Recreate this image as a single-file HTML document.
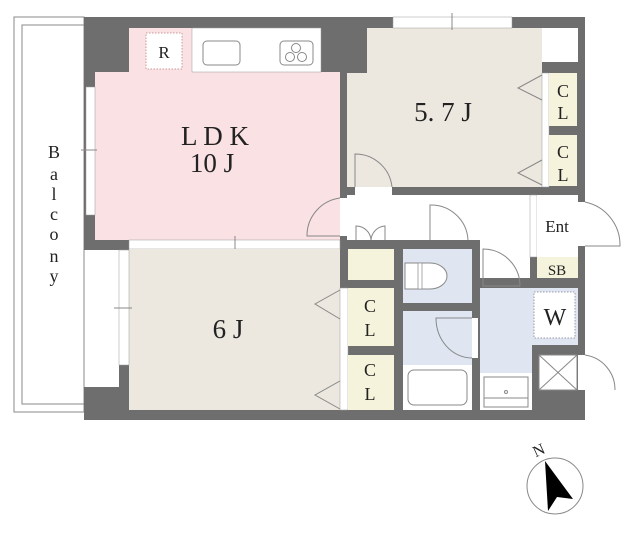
<!DOCTYPE html>
<html><head><meta charset="utf-8"><style>
html,body{margin:0;padding:0;background:#fff;width:640px;height:535px;overflow:hidden}
svg{display:block}
text{font-family:"Liberation Serif",serif;fill:#222}
</style></head><body>
<svg width="640" height="535" viewBox="0 0 640 535" xmlns="http://www.w3.org/2000/svg">
<!-- balcony -->
<rect x="14" y="17" width="70" height="395" fill="none" stroke="#888" stroke-width="1"/>
<polyline points="84,25 22,25 22,404 84,404" fill="none" stroke="#888" stroke-width="1"/>
<g font-size="18" text-anchor="middle">
<text x="54" y="158">B</text><text x="54" y="180">a</text><text x="54" y="200">l</text><text x="54" y="220">c</text><text x="54" y="240">o</text><text x="54" y="262">n</text><text x="54" y="282">y</text>
</g>
<!-- walls -->
<path d="M84,17 H585 V420 H84 V387 H119 V250 H84 Z" fill="#6e6e6e"/>
<!-- LDK -->
<rect x="95" y="72" width="245" height="168" fill="#f9e1e4"/>
<rect x="129" y="28" width="63" height="44" fill="#f9e1e4"/>
<rect x="192" y="28" width="129" height="44" fill="#fff" stroke="#999" stroke-width="0.5"/>
<rect x="203" y="41" width="37" height="24" rx="4" fill="#fff" stroke="#888"/>
<rect x="280" y="41" width="33" height="24" rx="4" fill="#fff" stroke="#888"/>
<circle cx="296" cy="48" r="4.5" fill="none" stroke="#888"/><circle cx="290" cy="57" r="4.5" fill="none" stroke="#888"/><circle cx="302" cy="57" r="4.5" fill="none" stroke="#888"/>
<rect x="146" y="33" width="36" height="36" fill="#fff" stroke="#c99" stroke-dasharray="1.5,1.5"/>
<text x="164" y="58" font-size="17" text-anchor="middle">R</text>
<text x="215" y="145" font-size="27" text-anchor="middle">L D K</text>
<text x="212" y="172" font-size="27" text-anchor="middle">10 J</text>
<!-- LDK windows -->
<rect x="86" y="87" width="9" height="128" fill="#fff" stroke="#999" stroke-width="0.5"/>
<line x1="81" y1="150" x2="97" y2="150" stroke="#888"/>
<rect x="129" y="240" width="211" height="9" fill="#fff" stroke="#999" stroke-width="0.5"/>
<line x1="235" y1="236" x2="235" y2="252" stroke="#888"/>
<!-- LDK door -->
<rect x="340" y="198" width="7" height="38" fill="#fff"/>
<path d="M340,198 A38,38 0 0 0 307,236 H340" fill="none" stroke="#888"/>
<!-- 5.7J -->
<path d="M367,28 H542 V187 H347 V73 H367 Z" fill="#ece8df"/>
<rect x="393" y="17" width="119" height="11" fill="#fff" stroke="#999" stroke-width="0.5"/>
<line x1="452" y1="13" x2="452" y2="30" stroke="#888"/>
<text x="443" y="121" font-size="27" text-anchor="middle">5. 7 J</text>
<rect x="542" y="28" width="36" height="34" fill="#fff"/>
<rect x="542" y="73" width="7" height="114" fill="#fff" stroke="#999" stroke-width="0.5"/>
<rect x="549" y="73" width="28" height="53" fill="#f6f3dc"/>
<rect x="549" y="135" width="28" height="51" fill="#f6f3dc"/>
<polyline points="542,75 518,88 542,100" fill="none" stroke="#888"/>
<polyline points="542,160 518,173 542,185" fill="none" stroke="#888"/>
<g font-size="18" text-anchor="middle"><text x="563" y="97">C</text><text x="563" y="119">L</text><text x="563" y="158">C</text><text x="563" y="181">L</text></g>
<!-- 5.7 door -->
<rect x="355" y="187" width="37" height="8" fill="#fff"/>
<path d="M355,187 V154 A37,37 0 0 1 392,187" fill="none" stroke="#888"/>
<!-- hall -->
<path d="M347,195 H530 V278 H480 V240 H347 Z" fill="#fff"/>
<rect x="530" y="195" width="7" height="62" fill="#fff" stroke="#999" stroke-width="0.5"/>
<rect x="537" y="195" width="41" height="62" fill="#fff"/>
<text x="557" y="232" font-size="17" text-anchor="middle">Ent</text>
<rect x="537" y="257" width="41" height="21" fill="#f6f3dc"/>
<text x="557" y="275" font-size="15" text-anchor="middle">SB</text>
<rect x="578" y="202" width="7" height="44" fill="#fff"/>
<path d="M585,202 A44,44 0 0 1 620,246 H585" fill="none" stroke="#888"/>
<!-- storage -->
<rect x="348" y="249" width="46" height="31" fill="#f6f3dc"/>
<path d="M356,240 V226 A15,15 0 0 1 371,240 M385,240 V226 A15,15 0 0 0 371,240" fill="none" stroke="#888"/>
<!-- toilet -->
<rect x="403" y="249" width="69" height="54" fill="#dfe6f2"/>
<path d="M405,263 H430 A17,13 0 0 1 430,289 H405 Z" fill="#fff" stroke="#888"/>
<rect x="418" y="263" width="4" height="26" fill="#fff" stroke="#888" stroke-width="0.7"/>
<path d="M430,240 V205 A37,37 0 0 1 468,240" fill="none" stroke="#888"/>
<path d="M483,249 A37,37 0 0 1 520,286 H483 Z" fill="none" stroke="#888"/>
<!-- bath -->
<rect x="403" y="311" width="69" height="54" fill="#dfe6f2"/>
<rect x="403" y="365" width="69" height="45" fill="#fff"/>
<rect x="408" y="370" width="59" height="35" rx="6" fill="#fff" stroke="#888"/>
<rect x="472" y="318" width="6" height="40" fill="#fff"/>
<path d="M472,318 H436 A36,40 0 0 0 472,358" fill="none" stroke="#888"/>
<!-- washroom -->
<path d="M480,288 H578 V345 H532 V373 H480 Z" fill="#dfe6f2"/>
<rect x="534" y="292" width="41" height="46" fill="#fff" stroke="#99a" stroke-dasharray="1.5,1.5"/>
<text x="555" y="325" font-size="24" text-anchor="middle">W</text>
<rect x="480" y="373" width="52" height="37" fill="#fff"/>
<rect x="484" y="377" width="44" height="30" fill="#fff" stroke="#888"/>
<line x1="484" y1="398" x2="528" y2="398" stroke="#888"/>
<circle cx="506" cy="392" r="1.5" fill="none" stroke="#888"/>
<rect x="539" y="355" width="38" height="35" fill="#fff" stroke="#888"/>
<path d="M539,355 L577,390 M577,355 L539,390" stroke="#888"/>
<rect x="578" y="355" width="7" height="35" fill="#fff"/>
<path d="M585,355 A35,35 0 0 1 615,390" fill="none" stroke="#888"/>
<!-- 6J -->
<rect x="129" y="249" width="211" height="161" fill="#ece8df"/>
<rect x="119" y="250" width="10" height="115" fill="#fff" stroke="#999" stroke-width="0.5"/>
<line x1="114" y1="308" x2="132" y2="308" stroke="#888"/>
<text x="228" y="338" font-size="27" text-anchor="middle">6 J</text>
<rect x="340" y="288" width="8" height="122" fill="#fff" stroke="#999" stroke-width="0.5"/>
<rect x="348" y="288" width="46" height="58" fill="#f6f3dc"/>
<rect x="348" y="355" width="46" height="55" fill="#f6f3dc"/>
<polyline points="340,290 315,304 340,319" fill="none" stroke="#888"/>
<polyline points="340,381 315,395 340,409" fill="none" stroke="#888"/>
<g font-size="18" text-anchor="middle"><text x="370" y="312">C</text><text x="370" y="336">L</text><text x="370" y="376">C</text><text x="370" y="400">L</text></g>
<!-- compass -->
<circle cx="555" cy="486" r="28" fill="none" stroke="#888"/>
<polygon points="545,461 548,511 557,497 573,499" fill="#000"/>
<text x="541" y="455" font-size="16" text-anchor="middle" transform="rotate(-25 541 455)">N</text>
</svg>
</body></html>
